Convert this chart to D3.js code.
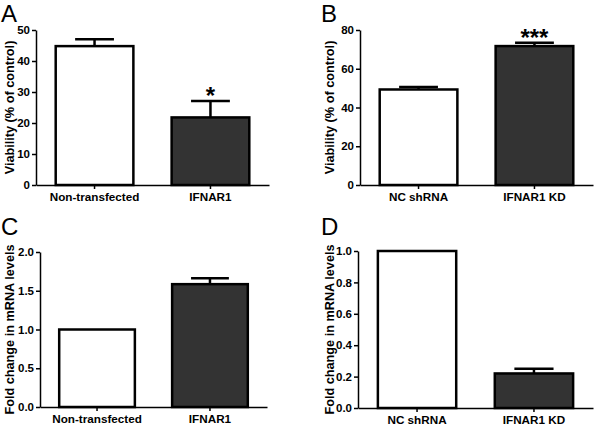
<!DOCTYPE html>
<html>
<head>
<meta charset="utf-8">
<script src="https://cdn.jsdelivr.net/npm/d3@7"></script>
<style>
  html, body { margin: 0; padding: 0; background: #fff; }
  svg { display: block; font-family: "Liberation Sans", Arial, sans-serif; }
</style>
</head>
<body>
<svg id="chart" width="600" height="426"></svg>
<script>
// ---- Data ----
const categoriesA = ["Non-transfected", "IFNAR1"];
const valuesA = [44.8, 21.8];
const errorsA = [2.2, 5.3];
const ticksA = [0, 10, 20, 30, 40, 50];
const starsA = ["", "*"];

const categoriesB = ["NC shRNA", "IFNAR1 KD"];
const valuesB = [49.3, 71.7];
const errorsB = [1.3, 1.7];
const ticksB = [0, 20, 40, 60, 80];
const starsB = ["", "***"];

const categoriesC = ["Non-transfected", "IFNAR1"];
const valuesC = [1.0, 1.585];
const errorsC = [0, 0.075];
const ticksC = [0, 0.5, 1.0, 1.5, 2.0];
const starsC = ["", ""];

const categoriesD = ["NC shRNA", "IFNAR1 KD"];
const valuesD = [1.0, 0.22];
const errorsD = [0, 0.03];
const ticksD = [0, 0.2, 0.4, 0.6, 0.8, 1.0];
const starsD = ["", ""];

const yLabelViability = "Viability (% of control)";
const yLabelFold = "Fold change in mRNA levels";

// ---- Layout ----
const panels = [
  { letter: "A", cats: categoriesA, vals: valuesA, errs: errorsA, ticks: ticksA, stars: starsA, ylabel: yLabelViability, fmt: d3.format("d"),
    x0: 36, x1: 269, yb: 185, yt: 30, lx: 1, ly: 21.8, labX: 14 },
  { letter: "B", cats: categoriesB, vals: valuesB, errs: errorsB, ticks: ticksB, stars: starsB, ylabel: yLabelViability, fmt: d3.format("d"),
    x0: 360, x1: 593, yb: 185, yt: 30, lx: 321, ly: 21.8, labX: 334 },
  { letter: "C", cats: categoriesC, vals: valuesC, errs: errorsC, ticks: ticksC, stars: starsC, ylabel: yLabelFold, fmt: d3.format(".1f"),
    x0: 40, x1: 267, yb: 407, yt: 252, lx: 1, ly: 235, labX: 14 },
  { letter: "D", cats: categoriesD, vals: valuesD, errs: errorsD, ticks: ticksD, stars: starsD, ylabel: yLabelFold, fmt: d3.format(".1f"),
    x0: 358, x1: 593, yb: 408, yt: 251, lx: 321, ly: 235, labX: 334 }
];

const svg = d3.select("#chart");
const fills = ["#ffffff", "#333333"];
const fontFam = "Liberation Sans, Arial, sans-serif";

panels.forEach(p => {
  const g = svg.append("g");
  const x = d3.scaleBand().domain(p.cats).range([p.x0, p.x1]).paddingInner(0.33).paddingOuter(0.17);
  const y = d3.scaleLinear().domain([p.ticks[0], p.ticks[p.ticks.length - 1]]).range([p.yb, p.yt]);
  const idx = d3.range(p.cats.length);

  // Error bars
  idx.forEach(i => {
    if (p.errs[i] > 0) {
      const cx = x(p.cats[i]) + x.bandwidth() / 2;
      const top = y(p.vals[i] + p.errs[i]);
      g.append("line").attr("x1", cx).attr("x2", cx).attr("y1", y(p.vals[i])).attr("y2", top)
        .attr("stroke", "#000").attr("stroke-width", 2.5);
      g.append("line").attr("x1", cx - x.bandwidth() / 4).attr("x2", cx + x.bandwidth() / 4)
        .attr("y1", top).attr("y2", top).attr("stroke", "#000").attr("stroke-width", 2.5);
    }
  });

  // Bars
  g.selectAll("rect.bar").data(idx).enter().append("rect")
    .attr("class", "bar")
    .attr("x", i => x(p.cats[i]))
    .attr("width", x.bandwidth())
    .attr("y", i => y(p.vals[i]))
    .attr("height", i => y(0) - y(p.vals[i]))
    .attr("fill", i => fills[i])
    .attr("stroke", "#000")
    .attr("stroke-width", 2.5);

  // Significance stars
  idx.forEach(i => {
    if (p.stars[i]) {
      const cx = x(p.cats[i]) + x.bandwidth() / 2;
      g.append("text").attr("x", cx).attr("y", y(p.vals[i] + p.errs[i]) + 3)
        .attr("text-anchor", "middle").attr("font-size", 24).attr("font-weight", "bold")
        .text(p.stars[i]);
    }
  });

  // Y axis
  const yAxis = d3.axisLeft(y).tickValues(p.ticks).tickFormat(p.fmt).tickSize(4).tickSizeOuter(0).tickPadding(2);
  const ya = g.append("g").attr("transform", `translate(${p.x0},0)`).call(yAxis);
  ya.select(".domain").attr("stroke-width", 1.5);
  ya.selectAll(".tick line").attr("stroke-width", 1.5);
  ya.selectAll(".tick text").attr("font-size", 11.5).attr("font-weight", "bold").attr("fill", "#000")
    .attr("font-family", fontFam);

  // X axis
  const xAxis = d3.axisBottom(x).tickSize(4).tickSizeOuter(0).tickPadding(4);
  const xa = g.append("g").attr("transform", `translate(0,${p.yb})`).call(xAxis);
  xa.select(".domain").attr("stroke-width", 1.5);
  xa.selectAll(".tick line").attr("stroke-width", 1.5);
  xa.selectAll(".tick text").attr("font-size", 11.7).attr("font-weight", "bold").attr("fill", "#000")
    .attr("font-family", fontFam);

  // Y label
  g.append("text")
    .attr("transform", `translate(${p.labX},${(p.yb + p.yt) / 2}) rotate(-90)`)
    .attr("text-anchor", "middle").attr("font-size", 12.7).attr("font-weight", "bold")
    .text(p.ylabel);

  // Panel letter
  g.append("text").attr("x", p.lx).attr("y", p.ly).attr("font-size", 24).text(p.letter);
});
</script>
</body>
</html>
